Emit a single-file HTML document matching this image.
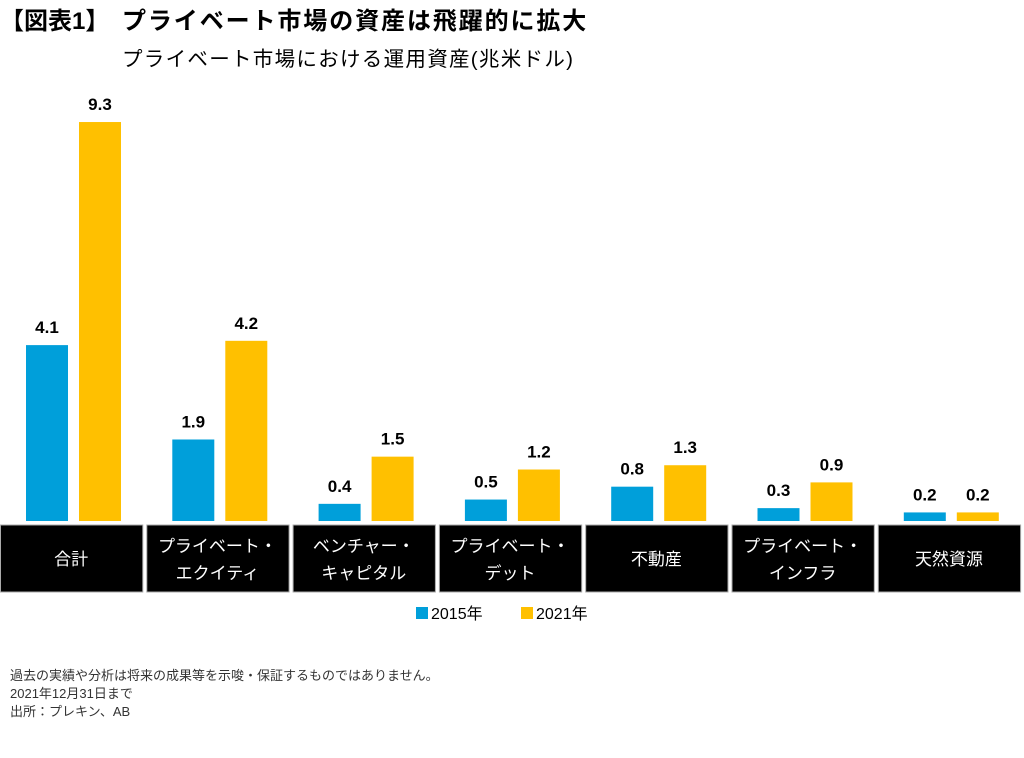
<!DOCTYPE html>
<html><head><meta charset="utf-8"><style>
body{margin:0;width:1024px;height:758px;background:#fff;font-family:"Liberation Sans","Noto Sans CJK JP",sans-serif;overflow:hidden;position:relative}
.t{position:absolute;white-space:nowrap;color:#000}
</style></head><body>
<div class="t" style="left:0px;top:1px;font-size:24px;font-weight:bold">【図表1】</div>
<div class="t" style="left:122px;top:1px;font-size:24px;font-weight:bold;letter-spacing:1.9px">プライベート市場の資産は飛躍的に拡大</div>
<div class="t" style="left:122px;top:42px;font-size:20.5px;letter-spacing:1.3px">プライベート市場における運用資産(兆米ドル)</div>
<svg id="chart" width="1024" height="640" style="position:absolute;left:0;top:0"></svg>
<div class="t" style="left:10px;top:665px;font-size:13px;color:#333">過去の実績や分析は将来の成果等を示唆・保証するものではありません。</div>
<div class="t" style="left:10px;top:683px;font-size:13px;color:#333">2021年12月31日まで</div>
<div class="t" style="left:10px;top:701px;font-size:13px;color:#333">出所：プレキン、AB</div>
<script>
const categories=[["合計"],["プライベート・","エクイティ"],["ベンチャー・","キャピタル"],["プライベート・","デット"],["不動産"],["プライベート・","インフラ"],["天然資源"]];
const values2015=[4.1,1.9,0.4,0.5,0.8,0.3,0.2];
const values2021=[9.3,4.2,1.5,1.2,1.3,0.9,0.2];
const seriesNames=["2015年","2021年"];
const colors=["#009FDA","#FFC000"];
const svg=document.getElementById('chart');
const NS="http://www.w3.org/2000/svg";
const base=521, unit=42.9, pitch=146.3;
function y(v){return base-v*unit;}
function cx(i){return i*pitch+73;}
function mk(t,a){const e=document.createElementNS(NS,t);for(const k in a)e.setAttribute(k,a[k]);svg.appendChild(e);return e;}
[values2015,values2021].forEach((vals,s)=>{
  vals.forEach((v,i)=>{
    const x=cx(i)+(s===0?-47:6);
    const r=mk('rect',{x:x,y:y(v),width:42,height:base-y(v),fill:colors[s]});
    
    
    const t=mk('text',{x:x+21,y:y(v)-12,'text-anchor':'middle','font-size':17,'font-weight':'bold',fill:'#000'});
    t.textContent=v.toFixed(1);
    
    
  });
});
categories.forEach((c,i)=>{
  const r=mk('rect',{x:i*pitch+0.5,y:525,width:pitch-4,height:67,fill:'#000',stroke:'#aaa','stroke-width':1});
  
  
  const x=i*pitch+(pitch-4)/2;
  c.forEach((line,j)=>{
    const ty=c.length===1?565:552+j*27;
    const t=mk('text',{x:x,y:ty,'text-anchor':'middle','font-size':17,fill:'#fff'});
    t.textContent=line;
    
    
  });
});
[[416,0],[521,1]].forEach(([lx,s])=>{
  const r=mk('rect',{x:lx,y:607,width:12,height:12,fill:colors[s]});
  
  
  const t=mk('text',{x:lx+15,y:619,'font-size':16,fill:'#000'});
  t.textContent=seriesNames[s];
  
  
});
</script>
</body></html>
